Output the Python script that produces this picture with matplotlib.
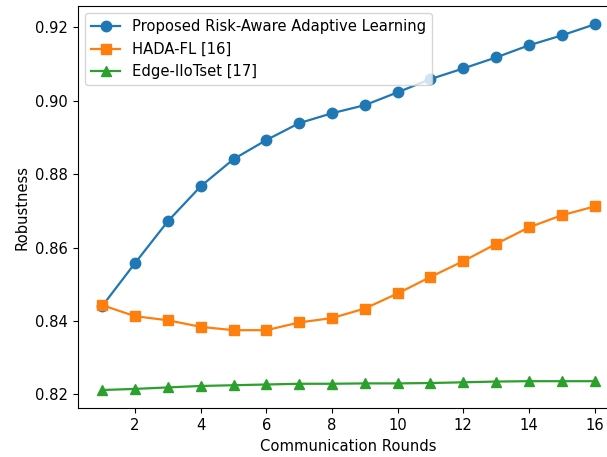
import matplotlib
matplotlib.use("Agg")
import matplotlib.pyplot as plt

rounds = list(range(1, 17))
proposed = [0.8441, 0.8558, 0.8672, 0.8767, 0.8841, 0.8893, 0.8939, 0.8966,
            0.8988, 0.9023, 0.9059, 0.9088, 0.9118, 0.9151, 0.9178, 0.9208]
hada = [0.8443, 0.8413, 0.8402, 0.8384, 0.8375, 0.8375, 0.8396, 0.8408,
        0.8434, 0.8475, 0.8520, 0.8563, 0.8610, 0.8655, 0.8688, 0.8712]
edge = [0.8212, 0.8215, 0.8219, 0.8223, 0.8225, 0.8227, 0.8229, 0.8229,
        0.8230, 0.8230, 0.8231, 0.8233, 0.8235, 0.8236, 0.8236, 0.8236]
labels = ["Proposed Risk-Aware Adaptive Learning", "HADA-FL [16]", "Edge-IIoTset [17]"]

plt.rcParams["font.size"] = 10.6

fig = plt.figure(figsize=(6.07, 4.57), dpi=100)
ax = fig.add_axes([0.128, 0.1066, 0.892, 0.880])
ax.plot(rounds, proposed, marker="o", color="#1f77b4", label=labels[0], markersize=7.5, linewidth=1.6)
ax.plot(rounds, hada, marker="s", color="#ff7f0e", label=labels[1], markersize=7.5, linewidth=1.6)
ax.plot(rounds, edge, marker="^", color="#2ca02c", label=labels[2], markersize=7.5, linewidth=1.6)
ax.set_xlabel("Communication Rounds")
ax.set_ylabel("Robustness")
ax.set_xticks([2, 4, 6, 8, 10, 12, 14, 16])
ax.set_yticks([0.82, 0.84, 0.86, 0.88, 0.90, 0.92])
ax.legend(loc="upper left")
fig.savefig("out.png", dpi=100)
